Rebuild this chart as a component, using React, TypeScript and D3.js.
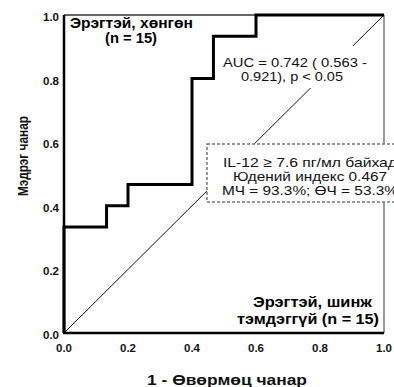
import React from 'react';
import * as d3 from 'd3';

// ROC step points (1 - specificity, sensitivity)
const fpr = [0, 0, 0.133, 0.133, 0.2, 0.2, 0.4, 0.4, 0.467, 0.467, 0.6, 0.6, 1.0];
const tpr = [0, 0.333, 0.333, 0.4, 0.4, 0.467, 0.467, 0.8, 0.8, 0.933, 0.933, 1.0, 1.0];
const ticks = [0, 0.2, 0.4, 0.6, 0.8, 1.0];
const aucLines = ['AUC = 0.742 ( 0.563 -', '0.921), p < 0.05'];
const cutoffLines = ['IL-12 ≥ 7.6 пг/мл байхад', 'Юдений индекс 0.467', 'МЧ = 93.3%; ӨЧ = 53.3%'];
const groupTop = ['Эрэгтэй, хөнгөн', '(n = 15)'];
const groupBottom = ['Эрэгтэй, шинж', 'тэмдэггүй (n = 15)'];

// text stretched to a measured width
function T(p: { x: number; y: number; w: number; s: number; b?: boolean; c?: string; children: string }) {
  return (
    <text x={p.x} y={p.y} fontSize={p.s} fontWeight={p.b ? 'bold' : 'normal'} fill={p.c || '#111'}
      textLength={p.w} lengthAdjust="spacingAndGlyphs">{p.children}</text>
  );
}

export default function App() {
  const W = 394, H = 387;
  const m = { top: 15, left: 64, right: 10, bottom: 54 };
  const x = d3.scaleLinear().domain([0, 1]).range([m.left, W - m.right]);
  const y = d3.scaleLinear().domain([0, 1]).range([H - m.bottom, m.top]);
  const pts = fpr.map((f, i) => [f, tpr[i]] as [number, number]);
  const line = d3.line<[number, number]>().x(d => x(d[0])).y(d => y(d[1]));
  const font = 'Arial, "Liberation Sans", sans-serif';

  return (
    <svg width={W} height={H} style={{ position: 'absolute', left: 0, top: 0, background: '#fff' }} fontFamily={font}>
      <rect width={W} height={H} fill="#fff" />
      {/* frame top/right */}
      <line x1={x(0)} x2={x(1)} y1={y(1)} y2={y(1)} stroke="#333" strokeWidth={1.5} />
      <line x1={x(1)} x2={x(1)} y1={y(1)} y2={y(0)} stroke="#777" strokeWidth={1.5} />
      {/* reference diagonal */}
      <line x1={x(0)} y1={y(0)} x2={x(1)} y2={y(1)} stroke="#111" strokeWidth={1} />

      {/* AUC label */}
      <rect x={220} y={46} width={150} height={42} fill="#fff" />
      <T x={223} y={67} w={144} s={13.5}>{aucLines[0]}</T>
      <T x={241} y={81} w={102} s={13.5}>{aucLines[1]}</T>

      {/* cutoff box */}
      <rect x={207} y={144} width={200} height={58} fill="#fff" stroke="#777" strokeWidth={1.5} strokeDasharray="3,2" />
      <T x={223} y={167} w={174} s={13.5}>{cutoffLines[0]}</T>
      <T x={233} y={181} w={154} s={13.5}>{cutoffLines[1]}</T>
      <T x={222} y={195} w={176} s={13.5}>{cutoffLines[2]}</T>

      {/* ROC curve */}
      <path d={line(pts) || ''} fill="none" stroke="#000" strokeWidth={3} />

      {/* axes */}
      <line x1={x(0)} x2={x(0)} y1={y(1)} y2={y(0)} stroke="#000" strokeWidth={2.5} />
      <line x1={x(0) - 1} x2={x(1)} y1={y(0)} y2={y(0)} stroke="#000" strokeWidth={2.5} />
      {ticks.map(t => (
        <text key={'y' + t} x={59} y={y(t) + 6} textAnchor="end" fontSize={11.5} fontWeight="bold" fill="#111">{t.toFixed(1)}</text>
      ))}
      {ticks.map(t => (
        <text key={'x' + t} x={x(t)} y={352} textAnchor="middle" fontSize={11.5} fontWeight="bold" fill="#111">{t.toFixed(1)}</text>
      ))}

      {/* group labels */}
      <T x={70} y={28} w={123} s={14.5} b c="#000">{groupTop[0]}</T>
      <T x={105} y={43} w={52} s={14.5} b c="#000">{groupTop[1]}</T>
      <T x={253} y={307} w={119} s={14.5} b c="#000">{groupBottom[0]}</T>
      <T x={237} y={324} w={142} s={14.5} b c="#000">{groupBottom[1]}</T>

      {/* axis titles */}
      <T x={147} y={385} w={160} s={15} b>1 - Өвөрмөц чанар</T>
      <g transform="translate(28,196) rotate(-90)">
        <T x={0} y={0} w={80} s={15} b>Мэдрэг чанар</T>
      </g>
    </svg>
  );
}
